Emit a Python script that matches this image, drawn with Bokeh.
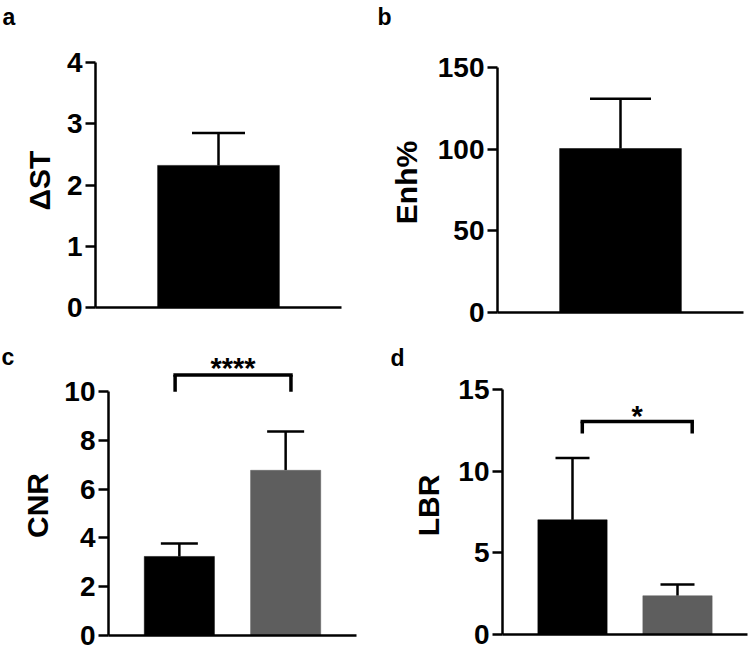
import math
from bokeh.plotting import figure
from bokeh.layouts import column, row
from bokeh.models import (Range1d, FixedTicker, Whisker, TeeHead, ColumnDataSource,
                          LinearAxis)
from bokeh.core.properties import value
from bokeh.embed import file_html
from bokeh.resources import INLINE

# ---------------- data ----------------
a_groups = ["Group 1"]
a_mean = [2.32]
a_err = [0.53]
a_ticks = [0, 1, 2, 3, 4]

b_groups = ["Group 1"]
b_mean = [100.4]
b_err = [30.5]
b_ticks = [0, 50, 100, 150]

c_groups = ["Group 1", "Group 2"]
c_mean = [3.24, 6.77]
c_err = [0.53, 1.59]
c_ticks = [0, 2, 4, 6, 8, 10]

d_groups = ["Group 1", "Group 2"]
d_mean = [7.02, 2.37]
d_err = [3.78, 0.69]
d_ticks = [0, 5, 10, 15]

bar_colors = ["#000000", "#5e5e5e"]

c_sig = "****"
c_sig_level = 10.68      # bracket height (data units)
c_sig_leg = 9.99         # bracket leg bottom
c_sig_text = 10.95
d_sig = "*"
d_sig_level = 13.04
d_sig_leg = 12.31
d_sig_text = 13.37

FONT = "Liberation Sans"
W = 375
SPACING = 1.5   # distance between bar centres (bar width 1)


def panel(groups, means, errs, ticks, ylabel, letter, H, box, tee, letter_px, label_px):
    """box = (left, right, bottom, top) pixel position of the plot area."""
    L, R, B, T = box
    n = len(groups)
    xs = [i * SPACING for i in range(n)]
    xlo = -1.0
    xhi = xs[-1] + 1.0
    ymax = ticks[-1]
    ux = (R - L) / (xhi - xlo)
    uy = (B - T) / ymax

    def dx(px):
        return xlo + (px - L) / ux

    def dy(py):
        return (B - py) / uy

    p = figure(width=W, height=H, title=None,
               x_range=Range1d(dx(0), dx(W)), y_range=Range1d(dy(H), dy(0)),
               x_axis_location=None, y_axis_location=None,
               min_border=0, min_border_left=0, min_border_right=0,
               min_border_top=0, min_border_bottom=0,
               output_backend="svg", toolbar_location=None)
    p.outline_line_color = None
    p.background_fill_color = "white"
    p.border_fill_color = "white"
    p.grid.visible = False

    src = ColumnDataSource(dict(x=xs, g=groups, mean=means,
                                upper=[m + e for m, e in zip(means, errs)],
                                color=bar_colors[:n]))
    p.vbar(x="x", top="mean", bottom=0, width=0.99, source=src,
           fill_color="color", line_color="color", line_width=0.5)
    p.add_layout(Whisker(base="x", upper="upper", lower="mean", source=src,
                         dimension="height", line_width=2.5, line_color="black",
                         upper_head=TeeHead(size=tee, line_width=2.5, line_color="black"),
                         lower_head=None))

    ya = LinearAxis(fixed_location=xlo, ticker=FixedTicker(ticks=ticks, minor_ticks=[]),
                    bounds=(0, ymax))
    ya.axis_line_width = 2.5
    ya.major_tick_line_width = 2.5
    ya.major_tick_out = 10
    ya.major_tick_in = 0
    ya.minor_tick_out = 0
    ya.minor_tick_in = 0
    ya.major_label_standoff = 3
    ya.major_label_text_font = FONT
    ya.major_label_text_font_style = "bold"
    ya.major_label_text_font_size = "28px"
    ya.major_label_text_color = "black"
    p.add_layout(ya, "left")

    xa = LinearAxis(fixed_location=0, ticker=FixedTicker(ticks=[], minor_ticks=[]),
                    bounds=(xlo, xhi))
    xa.axis_line_width = 2.5
    xa.major_tick_out = 0
    xa.major_tick_in = 0
    xa.minor_tick_out = 0
    xa.minor_tick_in = 0
    p.add_layout(xa, "below")

    # y-axis title (rotated)
    tx, ty = label_px
    p.text(x=[dx(tx)], y=[dy(ty)], text=[ylabel], angle=math.pi / 2,
           text_font=value(FONT), text_font_style="bold", text_font_size="30px",
           text_color="black", text_align="center", text_baseline="alphabetic")

    # panel letter
    lx, ly = letter_px
    p.text(x=[dx(lx)], y=[dy(ly)], text=[letter], text_font=value(FONT),
           text_font_style="bold", text_font_size="23px", text_color="black",
           text_align="left", text_baseline="alphabetic")
    p._xs = xs
    return p


def bracket(p, level, leg_low, off0, off1, text, text_y):
    xs = p._xs
    x0 = xs[0] + off0
    x1 = xs[1] + off1
    s = ColumnDataSource(dict(x0=[x0], x1=[x1], y=[level], ylow=[leg_low]))
    p.segment(x0="x0", x1="x1", y0="y", y1="y", source=s, line_width=3.5,
              line_color="black", line_cap="square")
    p.segment(x0="x0", x1="x0", y0="y", y1="ylow", source=s, line_width=3.5,
              line_color="black")
    p.segment(x0="x1", x1="x1", y0="y", y1="ylow", source=s, line_width=3.5,
              line_color="black")
    p.text(x=[(x0 + x1) / 2], y=[text_y], text=[text], text_font=value(FONT),
           text_font_style="bold", text_font_size="29px", text_align="center",
           text_baseline="alphabetic", text_color="black")


pa = panel(a_groups, a_mean, a_err, a_ticks, "ΔST", "a", 330, (95, 341, 307, 62), 53,
           (2, 16), (39, 180))
pb = panel(b_groups, b_mean, b_err, b_ticks, "Enh%", "b", 330, (122, 368, 312, 67), 61,
           (2, 16), (31, 182))
pc = panel(c_groups, c_mean, c_err, c_ticks, "CNR", "c", 320, (108, 356, 305, 61), 37,
           (1, 26), (37, 175))
pd_ = panel(d_groups, d_mean, d_err, d_ticks, "LBR", "d", 320, (127, 372, 304, 59), 34,
            (15, 27), (53, 175))

bracket(pc, c_sig_level, c_sig_leg, -0.06, 0.075, c_sig, c_sig_text)
bracket(pd_, d_sig_level, d_sig_leg, 0.14, 0.21, d_sig, d_sig_text)

layout = column(row(pa, pb), row(pc, pd_))
open("out.html", "w").write(file_html(layout, INLINE))
